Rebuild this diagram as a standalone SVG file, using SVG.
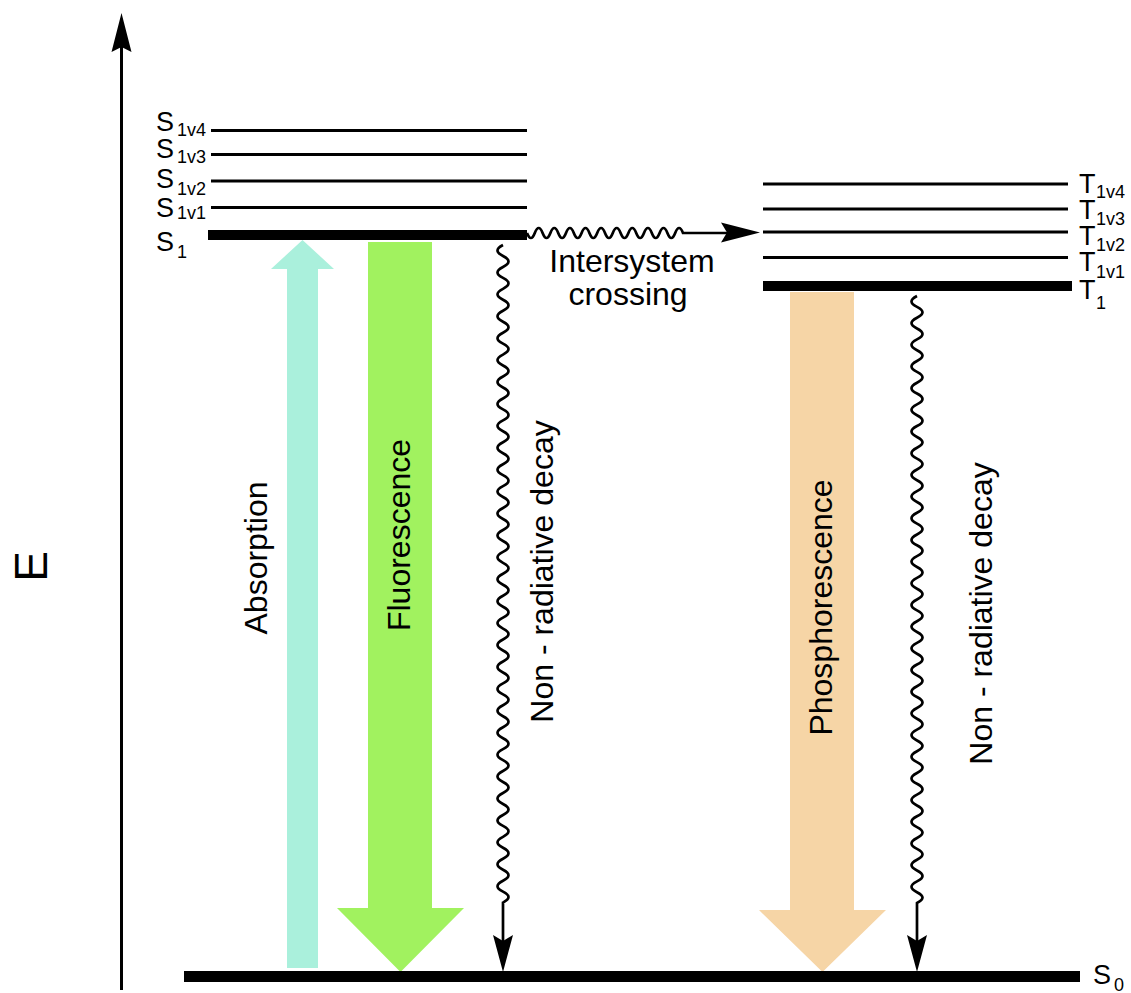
<svg xmlns="http://www.w3.org/2000/svg" width="1131" height="993" viewBox="0 0 1131 993">
<style>
text{font-family:"Liberation Sans",Arial,Helvetica,sans-serif;fill:#000}
.lbl{font-size:27px}
.sub{font-size:18px}
.big{font-size:32px}
.lvl{stroke:#000;stroke-width:3;fill:none}
.wave{fill:none;stroke:#000;stroke-width:2.7}
.head{fill:#000;stroke:none}
</style>
<rect width="1131" height="993" fill="#fff"/>

<g id="axis">
<line x1="121.5" y1="990" x2="121.5" y2="45" stroke="#000" stroke-width="3"/>
<path class="head" d="M121.5,13 L131.5,52 L121.5,47 L111.5,52 Z"/>
<text x="46.5" y="566.5" font-size="46" text-anchor="middle" transform="rotate(-90 46.5 566.5)">E</text>
</g>

<g id="absorption">
<polygon fill="#aaf0dc" points="287,968 287,269 271,269 302.5,240 334,269 318,269 318,968"/>
<text class="big" x="267" y="558" text-anchor="middle" transform="rotate(-90 267 558)">Absorption</text>
</g>

<g id="fluorescence">
<polygon fill="#a1f25f" points="368,242 432,242 432,908 464,908 400.5,972 337,908 368,908"/>
<text class="big" x="410" y="535" text-anchor="middle" transform="rotate(-90 410 535)">Fluorescence</text>
</g>

<g id="phosphorescence">
<polygon fill="#f6d5a6" points="790,292 854,292 854,910 886,910 822.5,972 759,910 790,910"/>
<text class="big" x="832" y="607.5" text-anchor="middle" transform="rotate(-90 832 607.5)">Phosphorescence</text>
</g>

<g id="connectors">
<g id="isc">
<path class="wave" d="M527,233 q3.9,10 7.8,0 t7.8,0 t7.8,0 t7.8,0 t7.8,0 t7.8,0 t7.8,0 t7.8,0 t7.8,0 t7.8,0 t7.8,0 t7.8,0 t7.8,0 t7.8,0 t7.8,0 t7.8,0 t7.8,0 t7.8,0 t7.8,0 t7.8,0 L727,233"/>
<path class="head" d="M760,232.5 L721,222.5 L727,232.5 L721,242.5 Z"/>
<text class="big" x="632" y="272" text-anchor="middle">Intersystem</text>
<text class="big" x="628" y="305" text-anchor="middle">crossing</text>
</g>
<g id="nonrad1">
<path class="wave" d="M503,245 q-11,5.48 0,10.96 t0,10.96 t0,10.96 t0,10.96 t0,10.96 t0,10.96 t0,10.96 t0,10.96 t0,10.96 t0,10.96 t0,10.96 t0,10.96 t0,10.96 t0,10.96 t0,10.96 t0,10.96 t0,10.96 t0,10.96 t0,10.96 t0,10.96 t0,10.96 t0,10.96 t0,10.96 t0,10.96 t0,10.96 t0,10.96 t0,10.96 t0,10.96 t0,10.96 t0,10.96 t0,10.96 t0,10.96 t0,10.96 t0,10.96 t0,10.96 t0,10.96 t0,10.96 t0,10.96 t0,10.96 t0,10.96 t0,10.96 t0,10.96 t0,10.96 t0,10.96 t0,10.96 t0,10.96 t0,10.96 t0,10.96 t0,10.96 t0,10.96 t0,10.96 t0,10.96 t0,10.96 t0,10.96 t0,10.96 t0,10.96 t0,10.96 t0,10.96 t0,10.96 t0,10.96 L503,942"/>
<path class="head" d="M503,972 L513,935 L503,941 L493,935 Z"/>
<text class="big" x="553" y="571.5" text-anchor="middle" transform="rotate(-90 553 571.5)">Non - radiative decay</text>
</g>
<g id="nonrad2">
<path class="wave" d="M917,296 q-11,5.42 0,10.84 t0,10.84 t0,10.84 t0,10.84 t0,10.84 t0,10.84 t0,10.84 t0,10.84 t0,10.84 t0,10.84 t0,10.84 t0,10.84 t0,10.84 t0,10.84 t0,10.84 t0,10.84 t0,10.84 t0,10.84 t0,10.84 t0,10.84 t0,10.84 t0,10.84 t0,10.84 t0,10.84 t0,10.84 t0,10.84 t0,10.84 t0,10.84 t0,10.84 t0,10.84 t0,10.84 t0,10.84 t0,10.84 t0,10.84 t0,10.84 t0,10.84 t0,10.84 t0,10.84 t0,10.84 t0,10.84 t0,10.84 t0,10.84 t0,10.84 t0,10.84 t0,10.84 t0,10.84 t0,10.84 t0,10.84 t0,10.84 t0,10.84 t0,10.84 t0,10.84 t0,10.84 t0,10.84 t0,10.84 t0,10.84 L917,942"/>
<path class="head" d="M917,972 L927,935 L917,941 L907,935 Z"/>
<text class="big" x="992" y="613.5" text-anchor="middle" transform="rotate(-90 992 613.5)">Non - radiative decay</text>
</g>
</g>

<g id="S1-levels">
<line class="lvl" x1="211" y1="130.5" x2="527" y2="130.5"/>
<line class="lvl" x1="211" y1="154.5" x2="527" y2="154.5"/>
<line class="lvl" x1="211" y1="181" x2="527" y2="181"/>
<line class="lvl" x1="211" y1="207.5" x2="527" y2="207.5"/>
<rect x="208" y="230" width="319" height="10" fill="#000"/>
<text class="lbl" x="156" y="131">S</text><text class="sub" x="177" y="136">1v4</text>
<text class="lbl" x="156" y="158">S</text><text class="sub" x="177" y="163">1v3</text>
<text class="lbl" x="156" y="188">S</text><text class="sub" x="177" y="195">1v2</text>
<text class="lbl" x="156" y="217">S</text><text class="sub" x="177" y="219">1v1</text>
<text class="lbl" x="156" y="251">S</text><text class="sub" x="177" y="258">1</text>
</g>

<g id="T1-levels">
<line class="lvl" x1="763" y1="184" x2="1068" y2="184"/>
<line class="lvl" x1="763" y1="209" x2="1068" y2="209"/>
<line class="lvl" x1="763" y1="232" x2="1068" y2="232"/>
<line class="lvl" x1="763" y1="257.5" x2="1068" y2="257.5"/>
<rect x="763" y="281" width="309" height="10" fill="#000"/>
<text class="lbl" x="1079" y="193">T</text><text class="sub" x="1096" y="198">1v4</text>
<text class="lbl" x="1079" y="219">T</text><text class="sub" x="1096" y="225">1v3</text>
<text class="lbl" x="1079" y="245">T</text><text class="sub" x="1096" y="251">1v2</text>
<text class="lbl" x="1079" y="271">T</text><text class="sub" x="1096" y="278">1v1</text>
<text class="lbl" x="1079" y="299">T</text><text class="sub" x="1096" y="309">1</text>
</g>

<g id="S0">
<rect x="184" y="971" width="896" height="11" fill="#000"/>
<text class="lbl" x="1093" y="984">S</text><text class="sub" x="1114" y="991">0</text>
</g>
</svg>
